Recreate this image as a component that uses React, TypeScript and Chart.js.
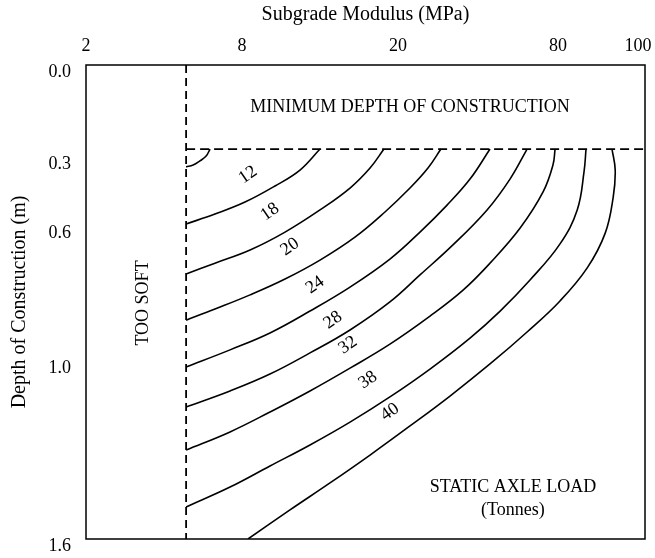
import React, { useEffect, useRef } from 'react';
import { Chart, registerables, LinearScale } from 'chart.js';

// ---- axes ----
const xTickValues = [2, 8, 20, 80, 100];
const xTickLabels = ['2', '8', '20', '80', '100'];
const yTickValues = [0, 0.3, 0.6, 1.0, 1.6];
const yTickLabels = ['0.0', '0.3', '0.6', '1.0', '1.6'];

// ---- region limits ----
const tooSoftLimit = 5.85; // MPa
const minDepth = 0.274; // m

// ---- contour curves: [subgrade modulus (MPa), depth (m)] ----
const curveA = [[5.85, 0.343], [6.12, 0.335], [6.38, 0.317], [6.62, 0.297], [6.77, 0.274]];
const curve12 = [[5.85, 0.591], [6.96, 0.548], [8.23, 0.496], [10.54, 0.426], [12.46, 0.357], [14.0, 0.274]];
const curve18 = [[5.85, 0.742], [6.96, 0.71], [8.62, 0.671], [11.31, 0.618], [14.0, 0.53], [16.31, 0.435], [17.85, 0.348], [18.92, 0.274]];
const curve20 = [[5.85, 0.879], [6.96, 0.846], [8.62, 0.804], [11.31, 0.757], [14.0, 0.701], [16.69, 0.633], [19.0, 0.539], [24.5, 0.435], [31.25, 0.348], [36.1, 0.274]];
const curve24 = [[5.85, 1.02], [7.54, 0.967], [10.15, 0.917], [13.23, 0.852], [16.31, 0.781], [19.38, 0.698], [28.25, 0.618], [38.4, 0.509], [47.0, 0.396], [54.5, 0.274]];
const curve28 = [[5.85, 1.155], [7.54, 1.101], [10.15, 1.044], [13.23, 0.976], [16.31, 0.908], [19.38, 0.825], [28.25, 0.745], [40.6, 0.656], [53.4, 0.53], [62.0, 0.396], [68.4, 0.274]];
const curve32 = [[5.85, 1.3], [7.54, 1.239], [10.15, 1.172], [13.23, 1.101], [16.31, 1.024], [19.38, 0.95], [32.0, 0.867], [44.4, 0.79], [54.5, 0.71], [65.8, 0.606], [74.4, 0.452], [78.1, 0.335], [78.9, 0.274]];
const curve38 = [[5.85, 1.492], [7.54, 1.425], [10.15, 1.354], [13.23, 1.283], [16.31, 1.206], [19.38, 1.121], [32.0, 1.027], [47.0, 0.932], [58.3, 0.852], [69.5, 0.76], [80.5, 0.653], [84.8, 0.53], [86.5, 0.365], [87.0, 0.274]];
const curve40 = [[8.46, 1.6], [11.69, 1.502], [14.77, 1.411], [17.85, 1.317], [24.5, 1.219], [39.5, 1.118], [54.5, 1.01], [68.4, 0.914], [80.5, 0.822], [87.3, 0.724], [91.8, 0.621], [93.8, 0.474], [94.3, 0.357], [93.5, 0.274]];

const curves = [curveA, curve12, curve18, curve20, curve24, curve28, curve32, curve38, curve40];

// ---- contour labels ----
const contourLabels = ['12', '18', '20', '24', '28', '32', '38', '40'];
const contourLabelX = [8.46, 10.15, 11.69, 13.62, 15.0, 16.15, 17.69, 19.38];
const contourLabelY = [0.378, 0.539, 0.662, 0.775, 0.879, 0.953, 1.064, 1.172];

// ---- region notes ----
const notes = ['MINIMUM DEPTH OF CONSTRUCTION', 'TOO SOFT', 'STATIC AXLE LOAD', '(Tonnes)'];
const noteX = [24.5, 4.19, 63.1, 63.1];
const noteY = [0.137, 0.828, 1.425, 1.502];
const noteRot = [0, -90, 0, 0];

const FONT = '"Liberation Serif", "Times New Roman", serif';

function interp(v: number, xs: number[], ys: number[]) {
  const n = xs.length;
  let i = 0;
  if (v >= xs[n - 1]) i = n - 2;
  else if (v > xs[0]) {
    while (v > xs[i + 1]) i++;
  }
  const t = (v - xs[i]) / (xs[i + 1] - xs[i]);
  return ys[i] + t * (ys[i + 1] - ys[i]);
}

class PiecewiseScale extends LinearScale {
  static id = 'piecewise';
  static defaults = { ticks: { callback: (v: any) => String(v) } };
  getPixelForValue(value: number) {
    const b = (this as any).options.breaks;
    return this.getPixelForDecimal(interp(value, b.values, b.fracs));
  }
  getValueForPixel(pixel: number) {
    const b = (this as any).options.breaks;
    return interp(this.getDecimalForPixel(pixel), b.fracs, b.values);
  }
  buildTicks() {
    return (this as any).options.tickValues.map((v: number) => ({ value: v }));
  }
}

Chart.register(...registerables, PiecewiseScale as any);

const overlayPlugin = {
  id: 'overlay',
  afterDatasetsDraw(chart: any) {
    const { ctx, chartArea, scales } = chart;
    const xs = scales.x;
    const ys = scales.y;
    ctx.save();
    ctx.fillStyle = '#000';
    ctx.textAlign = 'center';
    ctx.textBaseline = 'middle';
    ctx.font = '18px ' + FONT;
    contourLabels.forEach((t, i) => {
      ctx.save();
      ctx.translate(xs.getPixelForValue(contourLabelX[i]), ys.getPixelForValue(contourLabelY[i]));
      ctx.rotate((-35 * Math.PI) / 180);
      ctx.fillText(t, 0, 0);
      ctx.restore();
    });
    notes.forEach((t, i) => {
      ctx.save();
      ctx.translate(xs.getPixelForValue(noteX[i]), ys.getPixelForValue(noteY[i]));
      ctx.rotate((noteRot[i] * Math.PI) / 180);
      ctx.fillText(t, 0, 0);
      ctx.restore();
    });
    ctx.strokeStyle = '#000';
    ctx.lineWidth = 1.5;
    ctx.strokeRect(chartArea.left, chartArea.top, chartArea.right - chartArea.left, chartArea.bottom - chartArea.top);
    ctx.restore();
  },
};

export default function App() {
  const ref = useRef<HTMLCanvasElement>(null);
  useEffect(() => {
    if (!ref.current) return;
    const datasets: any[] = curves.map((c) => ({
      data: c.map(([x, y]) => ({ x, y })),
      showLine: true,
      borderColor: '#000',
      borderWidth: 1.6,
      pointRadius: 0,
      tension: 0.4,
      fill: false,
    }));
    datasets.push({
      data: [{ x: tooSoftLimit, y: 0 }, { x: tooSoftLimit, y: 1.6 }],
      showLine: true,
      borderColor: '#000',
      borderWidth: 1.8,
      borderDash: [8, 5],
      pointRadius: 0,
      tension: 0,
    });
    datasets.push({
      data: [{ x: tooSoftLimit, y: minDepth }, { x: 101.75, y: minDepth }],
      showLine: true,
      borderColor: '#000',
      borderWidth: 1.8,
      borderDash: [9, 5],
      pointRadius: 0,
      tension: 0,
    });
    const chart = new Chart(ref.current, {
      type: 'scatter',
      data: { datasets },
      plugins: [overlayPlugin],
      options: {
        animation: false,
        responsive: false,
        layout: { padding: { left: 0, top: 0, right: 10, bottom: 19 } },
        plugins: { legend: { display: false }, tooltip: { enabled: false } },
        scales: {
          x: {
            type: 'piecewise' as any,
            position: 'top',
            min: 2,
            max: 101.75,
            breaks: { values: [2, 8, 20, 80, 100], fracs: [0, 0.2791, 0.5581, 0.8444, 0.9875] },
            tickValues: xTickValues,
            afterFit: (s: any) => { s.height = 65; s.paddingLeft = 0; s.paddingRight = 0; },
            grid: { display: false, drawTicks: false },
            border: { display: false },
            ticks: {
              autoSkip: false,
              maxRotation: 0,
              padding: 8,
              color: '#000',
              font: { family: FONT, size: 18 },
              callback: (_v: any, i: number) => xTickLabels[i],
            },
            title: {
              display: true,
              text: 'Subgrade Modulus (MPa)',
              color: '#000',
              font: { family: FONT, size: 20 },
              padding: { top: 3, bottom: 0 },
            },
          } as any,
          y: {
            type: 'piecewise' as any,
            reverse: true,
            min: 0,
            max: 1.6,
            breaks: { values: [0, 0.3, 0.6, 1.0, 1.6], fracs: [0, 0.1941, 0.3397, 0.6245, 1] },
            tickValues: yTickValues,
            afterFit: (s: any) => { s.width = 86; s.paddingTop = 0; s.paddingBottom = 0; },
            grid: { display: false, drawTicks: false },
            border: { display: false },
            ticks: {
              autoSkip: false,
              padding: 15,
              labelOffset: 7,
              color: '#000',
              font: { family: FONT, size: 18 },
              callback: (_v: any, i: number) => yTickLabels[i],
            },
            title: {
              display: true,
              text: 'Depth of Construction (m)',
              color: '#000',
              font: { family: FONT, size: 20 },
              padding: { top: 8, bottom: 0 },
            },
          } as any,
        },
      } as any,
    });
    return () => chart.destroy();
  }, []);
  return (
    <div style={{ position: 'fixed', left: 0, top: 0, width: 655, height: 558, background: '#fff' }}>
      <canvas ref={ref} width={655} height={558} />
    </div>
  );
}
